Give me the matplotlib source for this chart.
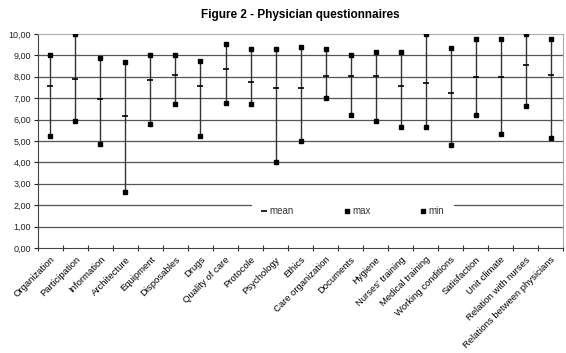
import numpy as np
import matplotlib
matplotlib.use("Agg")
import matplotlib.pyplot as plt
from matplotlib.ticker import FixedLocator, FuncFormatter

plt.rcParams["font.family"] = ["Liberation Sans", "DejaVu Sans"]

categories = [
    "Organization", "Participation", "Information", "Architecture", "Equipment",
    "Disposables", "Drugs", "Quality of care", "Protocole", "Psychology", "Ethics",
    "Care organization", "Documents", "Hygiene", "Nurses' training",
    "Medical training", "Working conditions", "Satisfaction", "Unit climate",
    "Relation with nurses", "Relations between physicians",
]
mean_vals = [7.55, 7.88, 6.95, 6.17, 7.85, 8.07, 7.55, 8.35, 7.77, 7.48, 7.45,
             8.04, 8.04, 8.01, 7.55, 7.69, 7.26, 7.98, 7.98, 8.55, 8.08]
max_vals = [9.00, 10.00, 8.86, 8.68, 9.00, 9.00, 8.75, 9.53, 9.30, 9.28, 9.39,
            9.30, 9.02, 9.16, 9.14, 10.00, 9.36, 9.77, 9.77, 10.00, 9.77]
min_vals = [5.22, 5.93, 4.87, 2.60, 5.81, 6.71, 5.22, 6.76, 6.71, 4.00, 5.02,
            7.01, 6.21, 5.93, 5.64, 5.64, 4.81, 6.21, 5.31, 6.64, 5.12]

x = np.arange(len(categories))

fig = plt.figure(figsize=(5.66, 3.53), dpi=100)
ax = fig.add_axes([0.067, 0.2975, 0.928, 0.6065])

# gridlines
for v in range(1, 10):
    ax.axhline(v, color="#555555", lw=0.9, zorder=1)

ax.vlines(x, min_vals, max_vals, color="#333333", lw=1.0, zorder=2)
ax.plot(x, mean_vals, ls="none", marker="_", ms=4.5, mew=1.2, color="black", label="mean", zorder=3)
ax.plot(x, max_vals, ls="none", marker="s", ms=2.9, color="black", label="max", zorder=3)
ax.plot(x, min_vals, ls="none", marker="s", ms=2.9, color="black", label="min", zorder=3)

ax.set_xlim(-0.5, len(categories) - 0.5)
ax.set_ylim(0, 10)

ax.yaxis.set_major_locator(FixedLocator(np.arange(0, 11, 1)))
ax.yaxis.set_major_formatter(FuncFormatter(lambda v, p: f"{v:.2f}".replace(".", ",")))
ax.tick_params(axis="y", direction="out", length=3, width=0.8, labelsize=6.5, pad=2, colors="#222222")

ax.set_xticks(x)
ax.set_xticklabels(categories, rotation=45, ha="right", rotation_mode="anchor", fontsize=6.8)
ax.tick_params(axis="x", which="major", length=0, pad=5)
ax.set_xticks(np.arange(-0.5, len(categories), 1), minor=True)
ax.tick_params(axis="x", which="minor", direction="inout", length=5, width=0.8, color="#333333")

ax.spines["left"].set_color("#444444")
ax.spines["bottom"].set_color("#444444")
ax.spines["top"].set_color("#aaaaaa")
ax.spines["top"].set_linestyle((0, (1, 1)))
ax.spines["right"].set_color("#aaaaaa")
ax.spines["right"].set_linestyle((0, (1, 1)))

leg = ax.legend(loc="center", bbox_to_anchor=(0.6, 0.172), ncol=3, frameon=True,
                fontsize=7, handlelength=0.5, handletextpad=0.3, columnspacing=5.2,
                borderpad=1.0, fancybox=False)
leg.get_frame().set_edgecolor("none")
leg.get_frame().set_facecolor("white")
leg.get_frame().set_alpha(1)
leg.set_zorder(5)
for t in leg.get_texts():
    t.set_color("#333333")

fig.suptitle("Figure 2 - Physician questionnaires", x=0.53, y=0.975, fontsize=8.5, fontweight="bold")

fig.savefig("out.png", dpi=100)
